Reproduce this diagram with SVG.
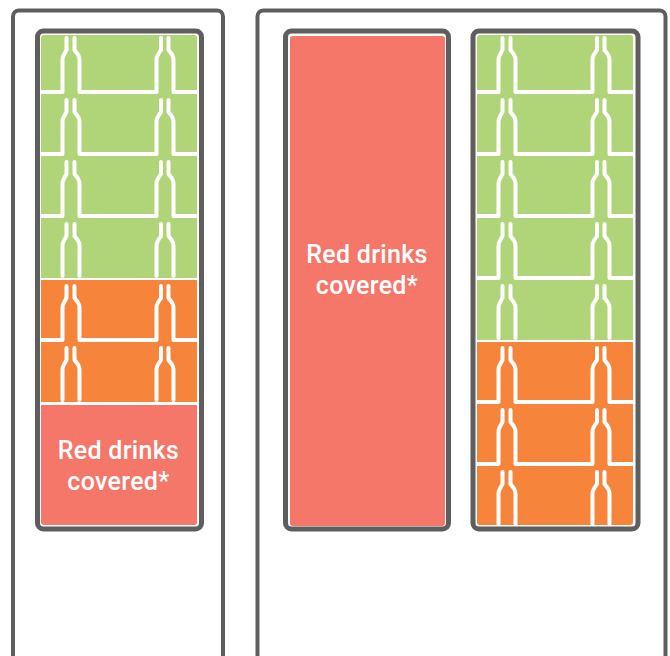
<svg xmlns="http://www.w3.org/2000/svg" xmlns:xlink="http://www.w3.org/1999/xlink" width="670" height="656" viewBox="0 0 670 656">
<style>
.frame{fill:#fff;stroke:#5e5e5e;stroke-width:4}
.rack{fill:#fff;stroke:#5e5e5e;stroke-width:5}
.g{fill:#b0d478}.o{fill:#f6853b}.r{fill:#f4776a}
.b{fill:none;stroke:#fff;stroke-width:4;stroke-linecap:round;stroke-linejoin:round}
.t{fill:#fff;font-family:Roboto,"Liberation Sans",sans-serif;font-size:25px;font-weight:500;text-anchor:middle;letter-spacing:.3px}
</style>
<defs>
<path id="shelf" class="b" d="M42 92H62.500V60Q62.500 57 64 54.500L66.500 50V38M74.500 38V50L78 54.500Q79.500 57 79.500 60V92H156.500V60Q156.500 57 158 54.500L161 50V38M168.500 38V50L172 54.500Q173.500 57 173.500 60V92H196"/>
<path id="open" class="b" d="M62.500 90V60Q62.500 57 64 54.500L66.500 50V38M74.500 38V50L78 54.500Q79.500 57 79.500 60V90M156.500 90V60Q156.500 57 158 54.500L161 50V38M168.500 38V50L172 54.500Q173.500 57 173.500 60V90"/>
</defs>
<g id="fridge-left">
<rect class="frame" x="13" y="10.500" width="210" height="700" rx="6"/>
<rect class="rack" x="37.500" y="31" width="164" height="498" rx="6"/>
<path class="g" d="M41 38Q41 35 44 35H194Q197 35 197 38V278H41Z"/>
<rect class="o" x="41" y="280" width="156" height="122"/>
<path class="r" d="M41 405H197V522Q197 525 194 525H44Q41 525 41 522Z"/>
<g id="left-bottles">
<use href="#shelf"/>
<use href="#shelf" y="62"/>
<use href="#shelf" y="124"/>
<use href="#open" y="186"/>
<use href="#shelf" y="248"/>
<use href="#open" y="310"/>
</g>
<text class="t" x="118.500" y="459">Red drinks</text>
<text class="t" x="118.500" y="490">covered*</text>
</g>
<g id="fridge-right">
<rect class="frame" x="257.500" y="10.500" width="408" height="700" rx="6"/>
<g id="rack-red">
<rect class="rack" x="285.500" y="31" width="163" height="498" rx="6"/>
<rect class="r" x="290" y="36" width="155" height="490" rx="3"/>
<text class="t" x="367" y="263">Red drinks</text>
<text class="t" x="367" y="294">covered*</text>
</g>
<g id="rack-bottles">
<rect class="rack" x="473" y="31" width="165" height="498" rx="6"/>
<path class="g" d="M477 38Q477 35 480 35H630Q633 35 633 38V340H477Z"/>
<path class="o" d="M477 342H633V522Q633 525 630 525H480Q477 525 477 522Z"/>
<g transform="translate(436 0)">
<use href="#shelf"/>
<use href="#shelf" y="62"/>
<use href="#shelf" y="124"/>
<use href="#shelf" y="186"/>
<use href="#open" y="248"/>
<use href="#shelf" y="310"/>
<use href="#shelf" y="372"/>
<use href="#open" y="434"/>
</g>
</g>
</g>
</svg>
